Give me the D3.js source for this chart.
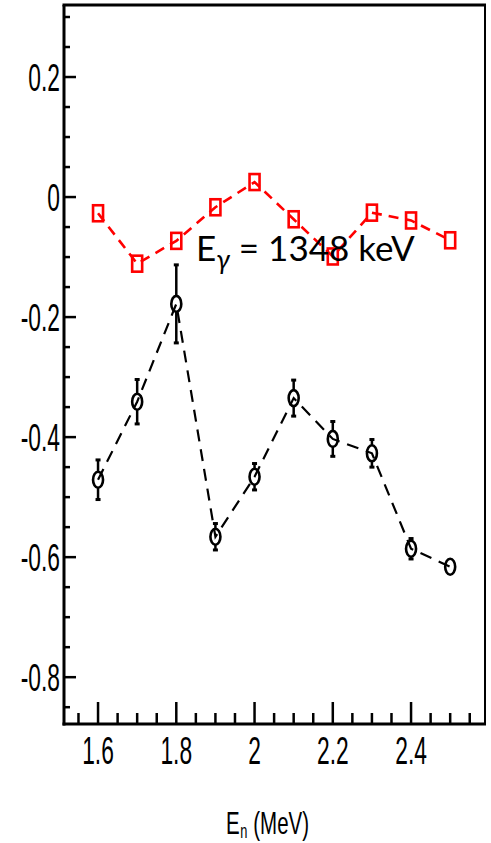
<!DOCTYPE html>
<html>
<head>
<meta charset="utf-8">
<script src="https://cdn.jsdelivr.net/npm/d3@7"></script>
<style>
  html, body { margin: 0; padding: 0; background: #fff; }
  svg { display: block; }
</style>
</head>
<body>
<script>
// ---- data ----
const energies = [1.6, 1.7, 1.8, 1.9, 2.0, 2.1, 2.2, 2.3, 2.4, 2.5];
const redValues = [-0.027, -0.111, -0.073, -0.017, 0.025, -0.037, -0.099, -0.026, -0.039, -0.072];
const blackValues = [-0.471, -0.341, -0.178, -0.566, -0.466, -0.335, -0.403, -0.427, -0.586, -0.616];
const blackErrors = [0.033, 0.037, 0.065, 0.022, 0.022, 0.030, 0.029, 0.023, 0.017, 0.006];
const xTickLabels = ["1.6", "1.8", "2", "2.2", "2.4"];
const yTickLabels = ["0.2", "0", "-0.2", "-0.4", "-0.6", "-0.8"];
const xTitle = ["E", "n", "(MeV)"];
const annotation = ["E", "γ", " = 1348 keV"];

const W = 491, H = 843;
const L = 64, R = 485, T = 5, B = 724;

const svg = d3.select("body").append("svg").attr("width", W).attr("height", H);
svg.append("rect").attr("width", W).attr("height", H).attr("fill", "#fff");

const x = d3.scaleLinear().domain([1.513, 2.589]).range([L, R]);
const y = d3.scaleLinear().domain([-0.878, 0.32]).range([B, T]);

// ---- ticks ----
const xMinor = d3.range(1.55, 2.58, 0.05).map(v => +v.toFixed(2));
const yMinor = d3.range(-0.85, 0.31, 0.05).map(v => +v.toFixed(2));
const xMajor = xTickLabels.map(Number);
const yMajor = yTickLabels.map(Number);

const tickG = svg.append("g").attr("stroke", "#000").attr("stroke-width", 2.5);
xMinor.forEach(v => {
  const isMajor = xMajor.some(m => Math.abs(m - v) < 1e-6);
  tickG.append("line").attr("x1", x(v)).attr("x2", x(v))
    .attr("y1", B).attr("y2", B - (isMajor ? 22 : 11));
});
yMinor.forEach(v => {
  const isMajor = yMajor.some(m => Math.abs(m - v) < 1e-6);
  tickG.append("line").attr("y1", y(v)).attr("y2", y(v))
    .attr("x1", L).attr("x2", L + (isMajor ? 12 : 6));
});

// ---- frame ----
svg.append("line").attr("x1", L - 1.5).attr("x2", R + 1).attr("y1", T).attr("y2", T).attr("stroke", "#000").attr("stroke-width", 3);
svg.append("line").attr("x1", R).attr("x2", R).attr("y1", T).attr("y2", B).attr("stroke", "#000").attr("stroke-width", 2);
svg.append("line").attr("x1", L).attr("x2", L).attr("y1", T).attr("y2", B + 1.5).attr("stroke", "#000").attr("stroke-width", 3);
svg.append("line").attr("x1", L - 1.5).attr("x2", R + 1).attr("y1", B).attr("y2", B).attr("stroke", "#000").attr("stroke-width", 3);

// ---- tick labels (condensed) ----
const lblFont = "'Liberation Sans', Arial, sans-serif";
const sx = 0.6;
xTickLabels.forEach(t => {
  const v = +t;
  svg.append("text")
    .attr("transform", `translate(${x(v)},764) scale(${sx},1)`)
    .attr("text-anchor", "middle")
    .attr("font-family", lblFont).attr("font-size", 38)
    .text(t);
});
yTickLabels.forEach(t => {
  const v = +t;
  svg.append("text")
    .attr("transform", `translate(60,${y(v) + 13.5}) scale(${sx},1)`)
    .attr("text-anchor", "end")
    .attr("font-family", lblFont).attr("font-size", 38)
    .text(t);
});

// ---- axis title (separate pieces, condensed) ----
const tsx = 0.64;
let tx = 226;
const tE = svg.append("text")
  .attr("transform", `translate(${tx},834) scale(${tsx},1)`)
  .attr("font-family", lblFont).attr("font-size", 32).text(xTitle[0]);
tx += tE.node().getComputedTextLength() * tsx + 0.5;
const tN = svg.append("text")
  .attr("transform", `translate(${tx},838) scale(${tsx},1)`)
  .attr("font-family", lblFont).attr("font-size", 20).text(xTitle[1]);
tx += tN.node().getComputedTextLength() * tsx + 6;
svg.append("text")
  .attr("transform", `translate(${tx},834) scale(${tsx},1)`)
  .attr("font-family", lblFont).attr("font-size", 32).text(xTitle[2]);

// ---- lines ----
const lineGen = d3.line().x(d => x(d[0])).y(d => y(d[1]));
const redPts = energies.map((e, i) => [e, redValues[i]]);
const blackPts = energies.map((e, i) => [e, blackValues[i]]);

svg.append("path").attr("d", lineGen(blackPts)).attr("fill", "none")
  .attr("stroke", "#000").attr("stroke-width", 2.2).attr("stroke-dasharray", "12,8");
svg.append("path").attr("d", lineGen(redPts)).attr("fill", "none")
  .attr("stroke", "#ff0000").attr("stroke-width", 2.6).attr("stroke-dasharray", "10,7");

// ---- black error bars ----
const rx = 5, ry = 8;
const eb = svg.append("g").attr("stroke", "#000").attr("stroke-width", 2.5);
blackPts.forEach((p, i) => {
  const cx = x(p[0]), cy = y(p[1]);
  const yt = y(p[1] + blackErrors[i]), yb = y(p[1] - blackErrors[i]);
  if (cy - yt > ry) {
    eb.append("line").attr("x1", cx).attr("x2", cx).attr("y1", yt).attr("y2", cy - ry);
    eb.append("line").attr("x1", cx).attr("x2", cx).attr("y1", cy + ry).attr("y2", yb);
    svg.append("rect").attr("x", cx - 2.5).attr("y", yt - 1.5).attr("width", 5).attr("height", 3).attr("fill", "#000");
    svg.append("rect").attr("x", cx - 2.5).attr("y", yb - 1.5).attr("width", 5).attr("height", 3).attr("fill", "#000");
  }
});

// ---- markers ----
svg.append("g").selectAll("ellipse").data(blackPts).join("ellipse")
  .attr("cx", d => x(d[0])).attr("cy", d => y(d[1]))
  .attr("rx", rx).attr("ry", ry)
  .attr("fill", "none").attr("stroke", "#000").attr("stroke-width", 2.6);

svg.append("g").selectAll("rect").data(redPts).join("rect")
  .attr("x", d => x(d[0]) - 5).attr("y", d => y(d[1]) - 8)
  .attr("width", 10).attr("height", 16)
  .attr("fill", "none").attr("stroke", "#ff0000").attr("stroke-width", 2.6);

// ---- annotation ----
const an = svg.append("text")
  .attr("x", 196).attr("y", 261)
  .attr("font-family", "Lato, 'Open Sans', sans-serif").attr("font-size", 35)
  .attr("fill", "#000");
an.append("tspan").text(annotation[0]);
an.append("tspan").attr("font-size", 27).attr("font-style", "italic").attr("dy", 8).text(annotation[1]);
an.append("tspan").attr("dy", -8).text(annotation[2]);
</script>
</body>
</html>
